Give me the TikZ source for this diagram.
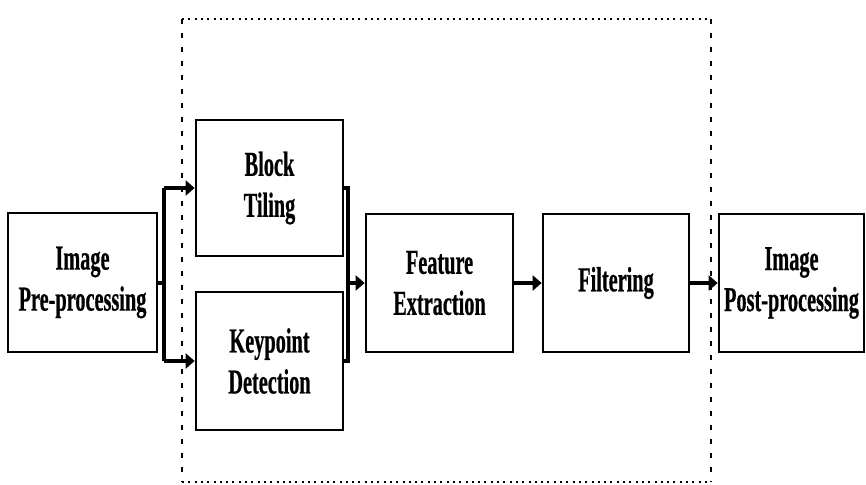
\documentclass[tikz,border=0pt]{standalone}
\usepackage{fontspec}
\newfontfamily\boxfont[FakeStretch=0.58,FakeBold=0.5]{Liberation Serif}
\usetikzlibrary{arrows.meta}
\begin{document}
\begin{tikzpicture}[x=1pt,y=-1pt,
  blockbox/.style={draw, line width=2.7pt, inner sep=0pt, align=center,
    font=\boxfont\bfseries\fontsize{35}{41}\selectfont},
  flow/.style={line width=3.5pt, -{Triangle[length=9pt,width=15pt]}},
  plainline/.style={line width=3.5pt},
  hdots/.style={line width=2pt, dash pattern=on 2pt off 4.3pt},
  vdots/.style={line width=2pt, dash pattern=on 5pt off 9pt}]
\useasboundingbox (0,0) rectangle (866,484);
% dotted frame
\coordinate (f1) at (182,19);
\coordinate (f2) at (711,19);
\coordinate (f3) at (711,482);
\coordinate (f4) at (182,482);
\draw[hdots] (f1) -- (f2);
\draw[hdots] (f4) -- (f3);
\draw[vdots] (f1) -- (f4);
\draw[vdots] (f2) -- (f3);
% boxes
\node[blockbox, minimum width=149pt, minimum height=139pt] (pre) at (82.5,282.5) {Image\\Pre-processing};
\node[blockbox, minimum width=147pt, minimum height=136pt] (tile) at (269.5,188) {Block\\Tiling};
\node[blockbox, minimum width=147pt, minimum height=138pt] (key) at (269.5,361) {Keypoint\\Detection};
\node[blockbox, minimum width=147pt, minimum height=138pt] (feat) at (439.5,283) {Feature\\Extraction};
\node[blockbox, minimum width=146pt, minimum height=138pt] (filt) at (616,283) {Filtering};
\node[blockbox, minimum width=145pt, minimum height=138pt] (post) at (791.5,283) {Image\\Post-processing};
% fork in
\coordinate (s1) at (164,283);
\coordinate (s1t) at (164,188);
\coordinate (s1b) at (164,361);
\draw[plainline] (pre.east |- s1) -- (s1);
\draw[plainline] (s1t) -- (s1b);
\draw[flow] (s1t) -- (tile.west);
\draw[flow] (s1b) -- (key.west);
% fork out
\coordinate (s2t) at (348,188);
\coordinate (s2b) at (348,361);
\coordinate (s2) at (348,283);
\draw[plainline] (tile.east) -- (s2t) -- (s2b) -- (key.east);
\draw[flow] (s2) -- (feat.west |- s2);
\draw[flow] (feat.east) -- (filt.west);
\draw[flow] (filt.east) -- (post.west);
\end{tikzpicture}
\end{document}
